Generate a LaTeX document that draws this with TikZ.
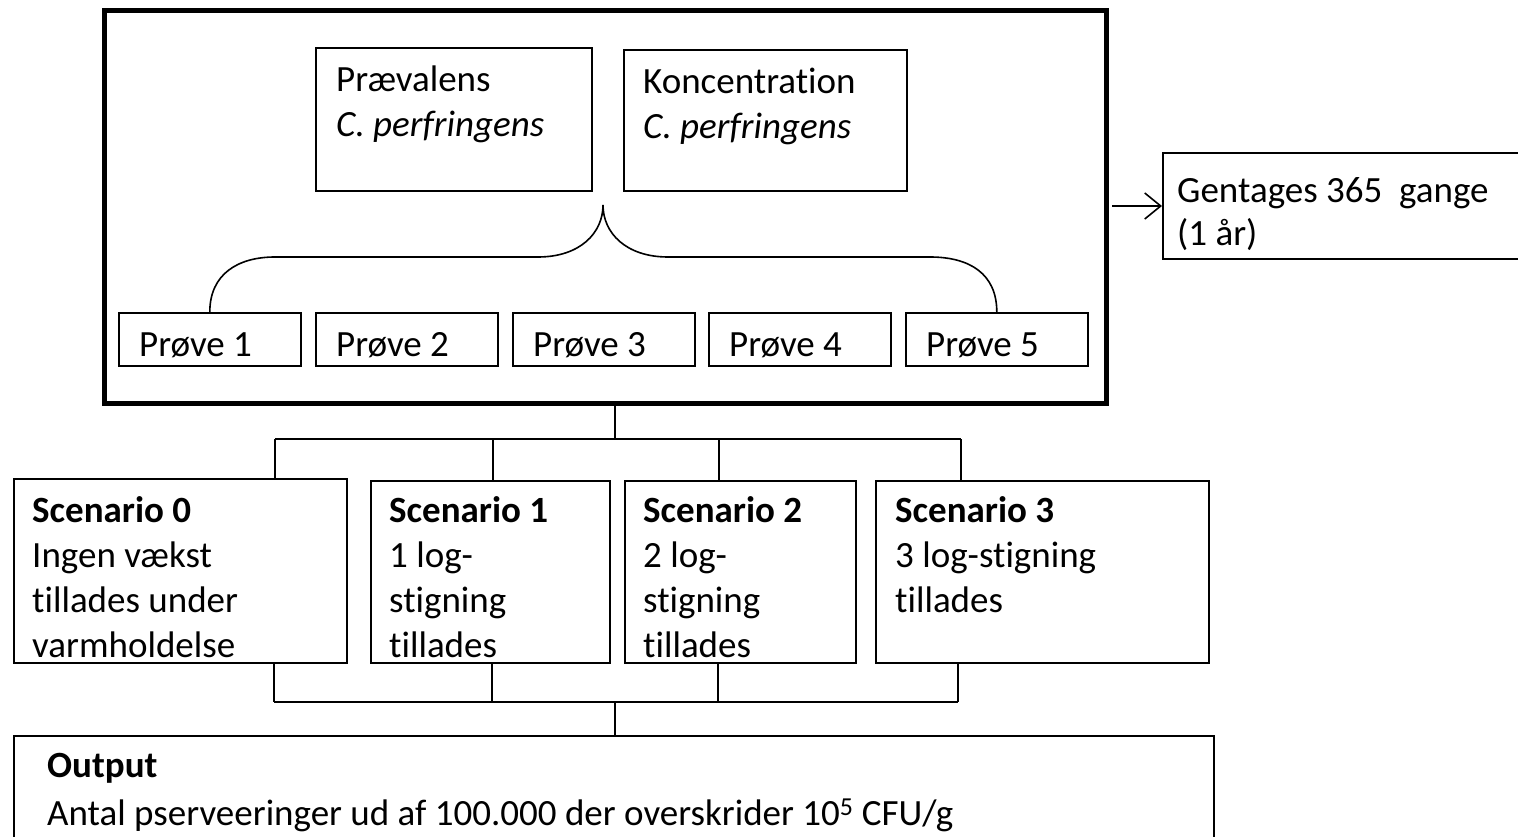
\documentclass[tikz,border=0pt]{standalone}
\usepackage{fontspec}
\setmainfont{Carlito}[Ligatures={NoCommon}]
\usetikzlibrary{arrows.meta}
\newcommand{\tl}[1]{\begin{tabular}[t]{@{}l@{}}#1\end{tabular}}
\begin{document}
\begin{tikzpicture}[x=1pt,y=-1pt,
  box/.style={draw, line width=1.6pt, inner sep=0pt, anchor=north west},
  thick box/.style={draw, line width=5pt, inner sep=0pt, anchor=north west},
  lbl/.style={anchor=base west, inner sep=0pt},
  f45/.style={font=\fontsize{37}{45}\selectfont},
  f43/.style={font=\fontsize{37}{43}\selectfont},
  f48/.style={font=\fontsize{37}{48}\selectfont},
  conn/.style={line width=1.6pt},
  brace/.style={line width=1.6pt}]
\useasboundingbox (0,0) rectangle (1518,837);
\clip (0,0) rectangle (1518,837);
% outer frame
\node[thick box, minimum width=1002pt, minimum height=393pt] (outer) at (102,8) {};
% input boxes
\node[box, minimum width=276pt, minimum height=143pt] (prev) at (315,47) {};
\node[box, minimum width=283pt, minimum height=141pt] (konc) at (623,49) {};
\node[lbl, f45] (prevt) at (336,92) {\tl{Prævalens\\\textit{C. perfringens}}};
\node[lbl, f45] (konct) at (643,94) {\tl{Koncentration\\\textit{C. perfringens}}};
% samples
\foreach \i/\x in {1/118,2/315,3/512,4/708,5/905}{
  \node[box, minimum width=182pt, minimum height=53pt] (p\i) at (\x,312) {};
  \node[lbl, f45] (p\i t) at (\x+21,356) {Prøve \i};
}
% brace
\coordinate (tip) at (603,205);
\draw[brace] (p1.north) .. controls ([yshift=38pt]p1.north) and (238,257) .. (275,257)
  -- (538,257) .. controls (580,257) and ([yshift=-28pt]tip) .. (tip);
\draw[brace] (tip) .. controls ([yshift=-28pt]tip) and (626,257) .. (668,257)
  -- (930,257) .. controls (970,257) and ([yshift=38pt]p5.north) .. (p5.north);
% repeat box
\node[box, minimum width=380pt, minimum height=106pt] (gent) at (1162,152) {};
\node[lbl, f43] (gentt) at (1177,203) {\tl{Gentages 365\ \ gange\\(1 år)}};
\coordinate (arrs) at (1112,206);
\draw[conn, -{Straight Barb[length=16pt,width=26pt,line width=1.6pt]}] (arrs) -- (gent.west |- arrs);
% scenarios
\node[box, minimum width=333pt, minimum height=184pt] (s0) at (13,478) {};
\node[box, minimum width=239pt, minimum height=182pt] (s1) at (370,480) {};
\node[box, minimum width=231pt, minimum height=182pt] (s2) at (624,480) {};
\node[box, minimum width=333pt, minimum height=182pt] (s3) at (875,480) {};
\node[lbl, f45] (s0t) at (32,522) {\tl{\textbf{Scenario 0}\\Ingen vækst\\tillades under\\varmholdelse}};
\node[lbl, f45] (s1t) at (389,522) {\tl{\textbf{Scenario 1}\\1 log-\\stigning\\tillades}};
\node[lbl, f45] (s2t) at (643,522) {\tl{\textbf{Scenario 2}\\2 log-\\stigning\\tillades}};
\node[lbl, f45] (s3t) at (895,522) {\tl{\textbf{Scenario 3}\\3 log-stigning\\tillades}};
% output
\node[box, minimum width=1200pt, minimum height=140pt] (out) at (13,735) {};
\node[lbl, f48] (outt) at (47,777) {\tl{\textbf{Output}\\Antal pserveeringer ud af 100.000 der overskrider 10\textsuperscript{5} CFU/g}};
% tree connectors top
\coordinate (t0) at (615,439);
\coordinate (tl) at (275,439);
\coordinate (tr) at (961,439);
\coordinate (t1) at (493,439);
\coordinate (t2) at (719,439);
\draw[conn] (outer.south -| t0) -- (t0);
\draw[conn] (tl) -- (tr);
\draw[conn] (tl) -- (s0.north -| tl);
\draw[conn] (t1) -- (s1.north -| t1);
\draw[conn] (t2) -- (s2.north -| t2);
\draw[conn] (tr) -- (s3.north -| tr);
% tree connectors bottom
\coordinate (b0) at (615,702);
\coordinate (bl) at (274,702);
\coordinate (br) at (958,702);
\coordinate (b1) at (492,702);
\coordinate (b2) at (718,702);
\draw[conn] (bl) -- (br);
\draw[conn] (s0.south -| bl) -- (bl);
\draw[conn] (s1.south -| b1) -- (b1);
\draw[conn] (s2.south -| b2) -- (b2);
\draw[conn] (s3.south -| br) -- (br);
\draw[conn] (b0) -- (out.north -| b0);
\end{tikzpicture}
\end{document}
